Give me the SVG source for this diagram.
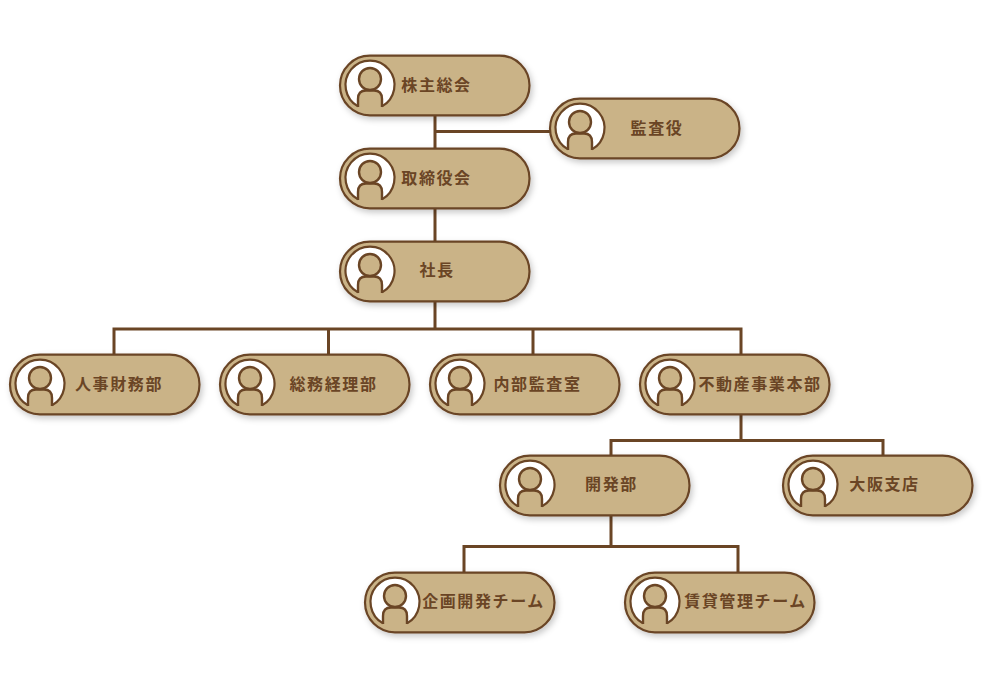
<svg xmlns="http://www.w3.org/2000/svg" width="983" height="680" viewBox="0 0 983 680">
<style>
.c{fill:none;stroke:#6a4525;stroke-width:3}
.t{font-family:"Noto Sans CJK JP","Noto Sans",sans-serif;font-size:16px;font-weight:700;letter-spacing:1.6px;fill:#6a4525;text-anchor:middle}
.b{fill:#cab387;stroke:#6a4525;stroke-width:2.2;filter:url(#s)}
.w{fill:#fff;stroke:#6a4525;stroke-width:2.2}
.p{fill:#cab387;stroke:#6a4525;stroke-width:2.4}
</style>
<defs>
<filter id="s" x="-10%" y="-20%" width="120%" height="145%"><feDropShadow dx="2" dy="3" stdDeviation="3" flood-color="#000" flood-opacity="0.22"/></filter>
<g id="n">
<rect class="b" x="0" y="0.700" width="189.500" height="59.600" rx="29.800"/>
<path class="w" d="M18 51.400A24.500 24.500 0 1 1 42 51.400"/>
<path class="p" d="M18 52V44Q18 35.500 26 35.500H34Q42 35.500 42 44V52"/>
<circle class="p" cx="30" cy="24" r="11"/>
</g>
</defs>
<g id="connectors" class="c">
<path class="c" d="M435 115V241M435 131.500H550M435 301V329M114 354V329H741V354M328.500 329V354M533 329V354M741 415V440.500M611 455V440.500H883V455M611 516V546.500M464 572V546.500H738V572"/>
</g>
<g id="n1"><use href="#n" x="340" y="55"/><text class="t" x="436.500" y="91">株主総会</text></g>
<g id="n2"><use href="#n" x="550" y="98"/><text class="t" x="657" y="134">監査役</text></g>
<g id="n3"><use href="#n" x="340" y="148"/><text class="t" x="436.500" y="184">取締役会</text></g>
<g id="n4"><use href="#n" x="340" y="241"/><text class="t" x="437" y="276">社長</text></g>
<g id="n5"><use href="#n" x="10" y="354"/><text class="t" x="119" y="390">人事財務部</text></g>
<g id="n6"><use href="#n" x="220" y="354"/><text class="t" x="333.500" y="390">総務経理部</text></g>
<g id="n7"><use href="#n" x="430" y="354"/><text class="t" x="537.500" y="390">内部監査室</text></g>
<g id="n8"><use href="#n" x="640" y="354"/><text class="t" x="760" y="390">不動産事業本部</text></g>
<g id="n9"><use href="#n" x="500" y="455"/><text class="t" x="611.500" y="490">開発部</text></g>
<g id="n10"><use href="#n" x="783" y="455"/><text class="t" x="884.500" y="490">大阪支店</text></g>
<g id="n11"><use href="#n" x="365" y="572"/><text class="t" x="483.500" y="607">企画開発チーム</text></g>
<g id="n12"><use href="#n" x="625" y="572"/><text class="t" x="745.500" y="607">賃貸管理チーム</text></g>
</svg>
